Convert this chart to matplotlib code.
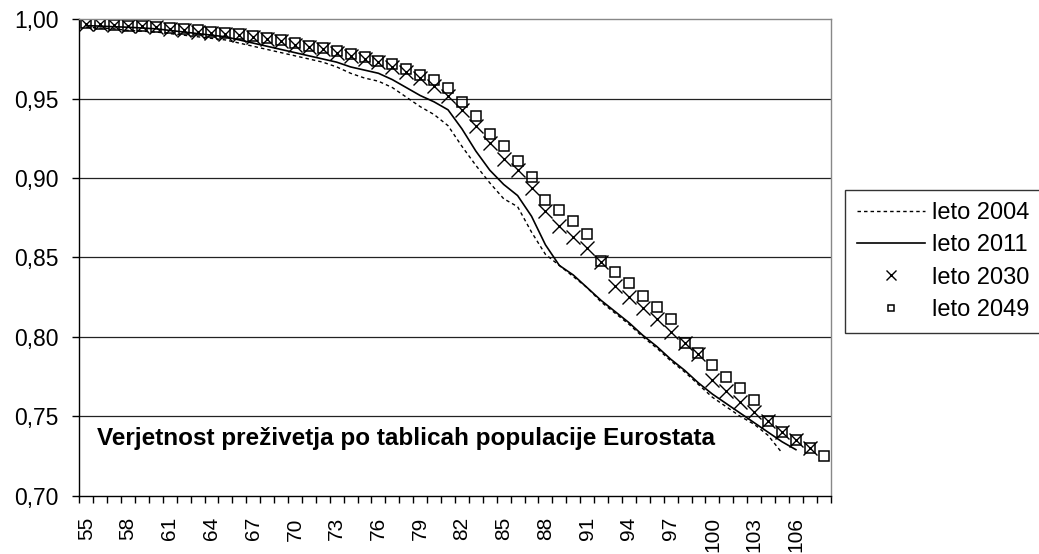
import numpy as np
import matplotlib
matplotlib.use("Agg")
import matplotlib.pyplot as plt

plt.rcParams['font.family'] = ['Liberation Sans', 'DejaVu Sans']

# starost (kategorije na osi x)
age_2004 = list(range(55, 106))
age_2011 = list(range(55, 107))
age_2030 = list(range(55, 108))
age_2049 = list(range(55, 109))

p_2004 = [0.995, 0.9945, 0.994, 0.993, 0.9925, 0.992, 0.991, 0.990, 0.989, 0.988,
          0.987, 0.985, 0.983, 0.981, 0.979, 0.977, 0.975, 0.973, 0.970, 0.966,
          0.963, 0.961, 0.957, 0.951, 0.945, 0.940, 0.933, 0.920, 0.908, 0.897,
          0.887, 0.882, 0.866, 0.852, 0.845, 0.838, 0.831, 0.822, 0.815, 0.808,
          0.800, 0.793, 0.785, 0.778, 0.770, 0.762, 0.756, 0.750, 0.745, 0.738,
          0.727]
p_2011 = [0.996, 0.9957, 0.9953, 0.995, 0.9945, 0.994, 0.993, 0.992, 0.991, 0.990,
          0.989, 0.987, 0.985, 0.983, 0.981, 0.979, 0.977, 0.975, 0.973, 0.970,
          0.968, 0.966, 0.962, 0.957, 0.952, 0.948, 0.943, 0.931, 0.917, 0.905,
          0.896, 0.889, 0.876, 0.858, 0.845, 0.839, 0.831, 0.823, 0.816, 0.809,
          0.801, 0.794, 0.786, 0.779, 0.771, 0.764, 0.758, 0.752, 0.746, 0.740,
          0.734, 0.729]
p_2030 = [0.997, 0.997, 0.9963, 0.9958, 0.9955, 0.995, 0.994, 0.993, 0.9923, 0.9915,
          0.9905, 0.990, 0.989, 0.9875, 0.9865, 0.984, 0.9825, 0.981, 0.979, 0.977,
          0.975, 0.973, 0.970, 0.967, 0.963, 0.958, 0.952, 0.943, 0.933, 0.922,
          0.912, 0.905, 0.894, 0.879, 0.870, 0.863, 0.856, 0.847, 0.832, 0.825,
          0.818, 0.811, 0.803, 0.796, 0.789, 0.773, 0.766, 0.759, 0.753, 0.747,
          0.740, 0.735, 0.730]
p_2049 = [0.9975, 0.997, 0.9965, 0.996, 0.9957, 0.9953, 0.9945, 0.994, 0.993, 0.9922,
          0.9913, 0.9905, 0.9895, 0.988, 0.987, 0.985, 0.983, 0.982, 0.980, 0.978,
          0.976, 0.974, 0.972, 0.969, 0.965, 0.962, 0.957, 0.948, 0.939, 0.928,
          0.920, 0.911, 0.901, 0.886, 0.880, 0.873, 0.865, 0.848, 0.841, 0.834,
          0.826, 0.819, 0.811, 0.796, 0.790, 0.782, 0.775, 0.768, 0.760, 0.747,
          0.740, 0.735, 0.730, 0.725]

labels = ['leto 2004', 'leto 2011', 'leto 2030', 'leto 2049']
y_ticks = [0.70, 0.75, 0.80, 0.85, 0.90, 0.95, 1.00]
x_labels = list(range(55, 107, 3))
title = 'Verjetnost preživetja po tablicah populacije Eurostata'

fig = plt.figure(figsize=(10.39, 5.54), dpi=100)
ax = fig.add_axes([0.0763, 0.1052, 0.7232, 0.86])

ax.plot(age_2004, p_2004, color='black', lw=1.0, dashes=(2.5, 2.2), label=labels[0])
ax.plot(age_2011, p_2011, color='black', lw=1.2, label=labels[1])
ax.plot(age_2030, p_2030, ls='none', marker='x', ms=10, mew=1.0, color='black', label=labels[2])
ax.plot(age_2049, p_2049, ls='none', marker='s', ms=7.5, mew=1.1, mfc='none', mec='black',
        label=labels[3])

ax.set_xlim(54.5, 108.5)
ax.set_ylim(0.70, 1.00)

# mreza
for yv in y_ticks[1:-1]:
    ax.axhline(yv, color='#222222', lw=0.9, zorder=0)

ax.set_yticks(y_ticks)
ax.set_yticklabels([f'{v:.2f}'.replace('.', ',') for v in y_ticks], fontsize=16.5)
ax.tick_params(axis='y', direction='out', length=5, width=1, pad=10)

ax.set_xticks(x_labels)
ax.set_xticklabels([str(v) for v in x_labels], rotation=90, fontsize=15)
ax.set_xticks(np.arange(54.5, 109, 1), minor=True)
ax.tick_params(axis='x', which='major', length=0, pad=15.5)
ax.tick_params(axis='x', which='minor', direction='out', length=5, width=1)

ax.spines['left'].set_color('black')
ax.spines['bottom'].set_color('black')
ax.spines['top'].set_color('#888888')
ax.spines['right'].set_color('#888888')
for s in ax.spines.values():
    s.set_linewidth(1.0)

ax.text(55.77, 0.7363, title, fontsize=17.5, fontweight='bold', ha='left', va='center')

leg = fig.legend(loc='upper left', bbox_to_anchor=(845 / 1039, 1 - 190 / 554),
                 fontsize=17, frameon=True, fancybox=False, edgecolor='black',
                 handlelength=2.9, handletextpad=0.3, labelspacing=0.44,
                 borderpad=0.5, markerscale=0.65, borderaxespad=0)
leg.get_frame().set_linewidth(1.0)

fig.savefig('out.png', dpi=100)
